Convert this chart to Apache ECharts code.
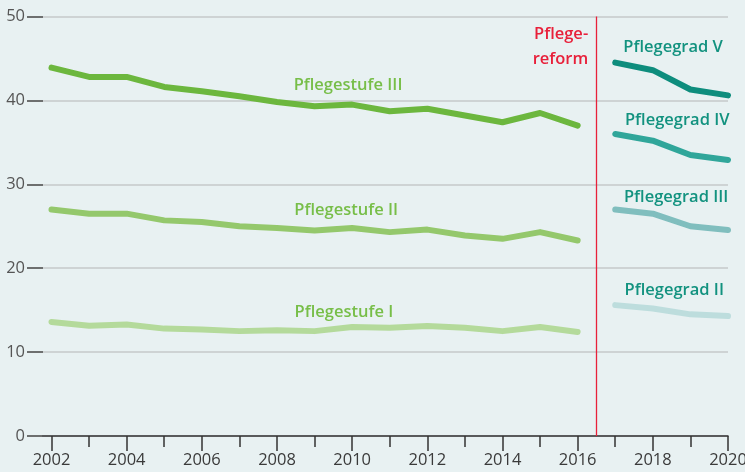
<!DOCTYPE html>
<html>
<head>
<meta charset="utf-8">
<script src="https://cdn.jsdelivr.net/npm/echarts@6/dist/echarts.min.js"></script>
<style>
html,body{margin:0;padding:0;background:#e8f1f2;}
#chart{width:745px;height:472px;}
</style>
</head>
<body>
<div id="chart"></div>
<script>
// ---- data ----
var yearsStufe = [2002,2003,2004,2005,2006,2007,2008,2009,2010,2011,2012,2013,2014,2015,2016];
var yearsGrad = [2017,2018,2019,2020];
var stufeIII = [43.9,42.8,42.8,41.6,41.1,40.5,39.8,39.3,39.5,38.7,39.0,38.2,37.4,38.5,37.0];
var stufeII  = [27.0,26.5,26.5,25.7,25.5,25.0,24.8,24.5,24.8,24.3,24.6,23.9,23.5,24.3,23.3];
var stufeI   = [13.6,13.15,13.3,12.8,12.7,12.5,12.6,12.5,13.0,12.9,13.1,12.9,12.5,13.0,12.4];
var gradV    = [44.5,43.6,41.3,40.6];
var gradIV   = [36.0,35.2,33.5,32.9];
var gradIII  = [27.0,26.5,25.0,24.55];
var gradII   = [15.6,15.2,14.5,14.3];
var allYears = [2002,2003,2004,2005,2006,2007,2008,2009,2010,2011,2012,2013,2014,2015,2016,2017,2018,2019,2020];
var labelYears = [2002,2004,2006,2008,2010,2012,2014,2016,2018,2020];
var reformYear = 2016.5;
var yTicks = [0,10,20,30,40,50];

function pairs(xs, ys){ return xs.map(function(x,i){ return [x, ys[i]]; }); }

var FONT = '"Open Sans", "Liberation Sans", sans-serif';
var green = '#77be48';
var teal = '#12927f';

function lineSeries(name, xs, ys, color, labelCoord, labelColor){
  return {
    name: name, type: 'line', data: pairs(xs, ys), symbol: 'none',
    lineStyle: {color: color, width: 6, cap: 'round', join: 'round'},
    z: 3,
    markPoint: {
      symbol: 'circle', symbolSize: 0, silent: true,
      data: [{coord: labelCoord, value: name}],
      label: {show: true, position: 'inside', formatter: name, color: labelColor,
              fontFamily: FONT, fontWeight: 600, fontSize: 16.5}
    }
  };
}

var series = [
  lineSeries('Pflegestufe III', yearsStufe, stufeIII, '#6cb73e', [2009.89, 41.83], green),
  lineSeries('Pflegestufe II', yearsStufe, stufeII, '#94c86c', [2009.84, 26.85], green),
  lineSeries('Pflegestufe I', yearsStufe, stufeI, '#b4da9b', [2009.78, 14.8], green),
  lineSeries('Pflegegrad V', yearsGrad, gradV, '#0e8d7d', [2018.54, 46.33], teal),
  lineSeries('Pflegegrad IV', yearsGrad, gradIV, '#30a69a', [2018.65, 37.66], teal),
  lineSeries('Pflegegrad III', yearsGrad, gradIII, '#80bebe', [2018.62, 28.45], teal),
  lineSeries('Pflegegrad II', yearsGrad, gradII, '#bddddd', [2018.57, 17.4], teal),
  {
    name: 'reform', type: 'line', data: [], symbol: 'none',
    markLine: {
      silent: true, symbol: 'none',
      lineStyle: {color: '#e8203a', width: 1.3, type: 'solid'},
      label: {show: false},
      data: [{xAxis: reformYear}]
    },
    markPoint: {
      symbol: 'circle', symbolSize: 0, silent: true,
      data: [{coord: [2016.28, 46.4]}],
      label: {show: true, position: 'inside', align: 'right', formatter: 'Pflege-\nreform',
              color: '#e8203a', fontFamily: FONT, fontWeight: 600, fontSize: 16.5, lineHeight: 25}
    }
  }
];

var xMin = 2001.774;
var chart = echarts.init(document.getElementById('chart'));
chart.setOption({
  backgroundColor: '#e8f1f2',
  animation: false,
  grid: {left: 43, right: 17, top: 16.5, bottom: 36, containLabel: false, outerBoundsMode: 'none'},
  xAxis: [
    {
      type: 'value', min: xMin, max: 2020, position: 'bottom',
      axisLine: {show: true, lineStyle: {color: '#333', width: 1.5}},
      axisTick: {show: true, length: 15, inside: false, customValues: labelYears,
                 lineStyle: {color: '#333', width: 1.5}},
      axisLabel: {show: true, customValues: labelYears, margin: 16, color: '#3a3a3a', hideOverlap: false,
                  fontFamily: FONT, fontSize: 16.5, formatter: function(v){ return String(Math.round(v)); }},
      splitLine: {show: false}
    },
    {
      type: 'value', min: xMin, max: 2020, position: 'bottom',
      axisLine: {show: false},
      axisTick: {show: true, length: 11, customValues: allYears,
                 lineStyle: {color: '#333', width: 1.5}},
      axisLabel: {show: false},
      splitLine: {show: false}
    }
  ],
  yAxis: {
    type: 'value', min: 0, max: 50, interval: 10,
    axisLine: {show: false},
    axisTick: {show: true, length: 16, lineStyle: {color: '#444', width: 1.5}},
    axisLabel: {margin: 18, color: '#555', fontFamily: FONT, fontSize: 16.5},
    splitLine: {show: true, lineStyle: {color: '#c6c9ca', width: 1.5}}
  },
  series: series
});
</script>
</body>
</html>
